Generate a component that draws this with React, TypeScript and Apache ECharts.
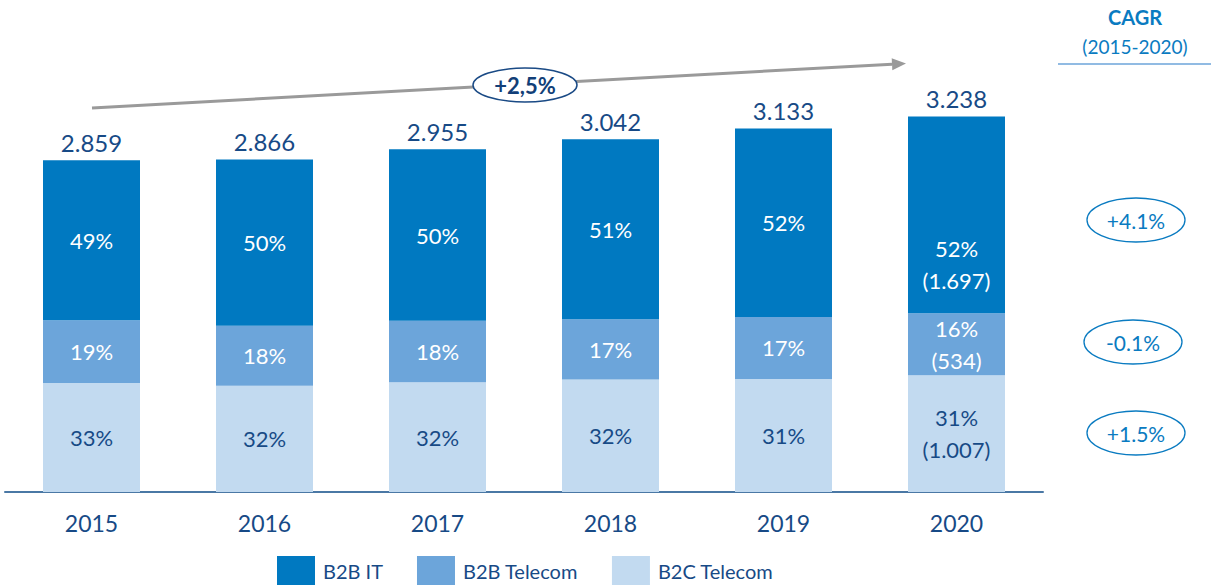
import React, { useEffect, useRef } from "react";
import * as echarts from "echarts";

const years = ["2015", "2016", "2017", "2018", "2019", "2020"];
const b2cTelecom = [940, 917, 946, 970, 975, 1007];
const b2bTelecom = [540, 516, 530, 520, 533, 534];
const b2bIT = [1379, 1433, 1479, 1552, 1625, 1697];
const totals = [2859, 2866, 2955, 3042, 3133, 3238];
const totalLabels = ["2.859", "2.866", "2.955", "3.042", "3.133", "3.238"];
const itLabels = ["49%", "50%", "50%", "51%", "52%", "52%\n(1.697)"];
const telLabels = ["19%", "18%", "18%", "17%", "17%", "16%\n(534)"];
const b2cLabels = ["33%", "32%", "32%", "32%", "31%", "31%\n(1.007)"];
const cagrValues = ["+4.1%", "-0.1%", "+1.5%"];
const overallCagr = "+2,5%";

const FONT = "Lato, 'Open Sans', sans-serif";
const NAVY = "#174a86";
const BLUE = "#0a7bc1";
const C_IT = "#0079c1";
const C_TEL = "#6ca5da";
const C_B2C = "#c2daf0";

export default function App() {
  const ref = useRef<HTMLDivElement>(null);
  useEffect(() => {
    if (!ref.current) return;
    const chart = echarts.init(ref.current, null, { renderer: "svg" });
    const labelBase = {
      show: true,
      position: "inside" as const,
      fontFamily: FONT,
      fontSize: 22,
      lineHeight: 32,
    };
    const cagrY = [220, 342, 433];
    const cagrX = [1136, 1133, 1136];
    const dir = [814, -44];
    const len = Math.hypot(dir[0], dir[1]);
    const ux = dir[0] / len, uy = dir[1] / len;
    const tip = [906, 63.4];
    const bc = [tip[0] - 14 * ux, tip[1] - 14 * uy];
    chart.setOption({
      animation: false,
      textStyle: { fontFamily: FONT },
      grid: { left: 5, width: 1038, top: 28, height: 464 },
      legend: {
        data: ["B2B IT", "B2B Telecom", "B2C Telecom"],
        left: 277,
        top: 556,
        itemWidth: 38,
        itemHeight: 30,
        itemGap: 34,
        padding: 0,
        icon: "rect",
        textStyle: { fontFamily: FONT, fontSize: 20, color: NAVY, padding: [0, 0, 0, 3] },
      },
      xAxis: {
        type: "category",
        data: years,
        axisLine: { show: true, lineStyle: { color: "#4a78a5", width: 2 } },
        axisTick: { show: false },
        axisLabel: { fontFamily: FONT, fontSize: 23, color: NAVY, margin: 19 },
      },
      yAxis: { type: "value", min: 0, max: 4000, show: false, splitLine: { show: false } },
      series: [
        {
          name: "B2C Telecom",
          type: "bar",
          stack: "s",
          barWidth: 97,
          itemStyle: { color: C_B2C },
          data: b2cTelecom,
          label: { ...labelBase, color: NAVY, formatter: (p: any) => b2cLabels[p.dataIndex] },
        },
        {
          name: "B2B Telecom",
          type: "bar",
          stack: "s",
          barWidth: 97,
          itemStyle: { color: C_TEL },
          data: b2bTelecom,
          label: { ...labelBase, color: "#ffffff", formatter: (p: any) => telLabels[p.dataIndex] },
        },
        {
          name: "B2B IT",
          type: "bar",
          stack: "s",
          barWidth: 97,
          itemStyle: { color: C_IT },
          data: b2bIT.map((v, i) =>
            i === b2bIT.length - 1 ? { value: v, label: { offset: [0, 50] } } : v
          ),
          label: { ...labelBase, color: "#ffffff", formatter: (p: any) => itLabels[p.dataIndex] },
        },
        {
          name: "Total",
          type: "bar",
          barWidth: 97,
          barGap: "-100%",
          z: 0,
          itemStyle: { color: "rgba(0,0,0,0)" },
          data: totals,
          label: {
            show: true,
            position: "top",
            distance: 6,
            fontFamily: FONT,
            fontSize: 24,
            color: NAVY,
            formatter: (p: any) => totalLabels[p.dataIndex],
          },
        },
      ],
      graphic: [
        {
          type: "line",
          shape: { x1: 92, y1: 108, x2: bc[0], y2: bc[1] },
          style: { stroke: "#9a9a9a", lineWidth: 3 },
        },
        {
          type: "polygon",
          shape: {
            points: [
              tip,
              [bc[0] - 6 * uy, bc[1] + 6 * ux],
              [bc[0] + 6 * uy, bc[1] - 6 * ux],
            ],
          },
          style: { fill: "#9a9a9a" },
        },
        {
          type: "ellipse",
          shape: { cx: 525, cy: 85, rx: 52, ry: 17 },
          style: { fill: "#ffffff", stroke: "#1a4a85", lineWidth: 1.5 },
        },
        {
          type: "text",
          x: 525,
          y: 85,
          style: {
            text: overallCagr,
            fontFamily: FONT,
            fontSize: 22,
            fontWeight: "bold",
            fill: "#123f78",
            align: "center",
            verticalAlign: "middle",
          },
        },
        {
          type: "text",
          x: 1135,
          y: 17,
          style: {
            text: "CAGR",
            fontFamily: FONT,
            fontSize: 20,
            fontWeight: "bold",
            fill: BLUE,
            align: "center",
            verticalAlign: "middle",
          },
        },
        {
          type: "text",
          x: 1135,
          y: 46,
          style: {
            text: "(2015-2020)",
            fontFamily: FONT,
            fontSize: 19,
            fill: BLUE,
            align: "center",
            verticalAlign: "middle",
          },
        },
        {
          type: "line",
          shape: { x1: 1058, y1: 64, x2: 1211, y2: 64 },
          style: { stroke: "#6ca5da", lineWidth: 1.5 },
        },
        ...cagrValues.flatMap((t, i) => [
          {
            type: "ellipse",
            shape: { cx: cagrX[i], cy: cagrY[i], rx: 49, ry: 22 },
            style: { fill: "#ffffff", stroke: BLUE, lineWidth: 1.3 },
          },
          {
            type: "text",
            x: cagrX[i],
            y: cagrY[i],
            style: {
              text: t,
              fontFamily: FONT,
              fontSize: 21,
              fill: BLUE,
              align: "center",
              verticalAlign: "middle",
            },
          },
        ]),
      ],
    });
    return () => chart.dispose();
  }, []);
  return (
    <div
      ref={ref}
      style={{ position: "fixed", left: 0, top: 0, width: 1211, height: 585, background: "#fff" }}
    />
  );
}
